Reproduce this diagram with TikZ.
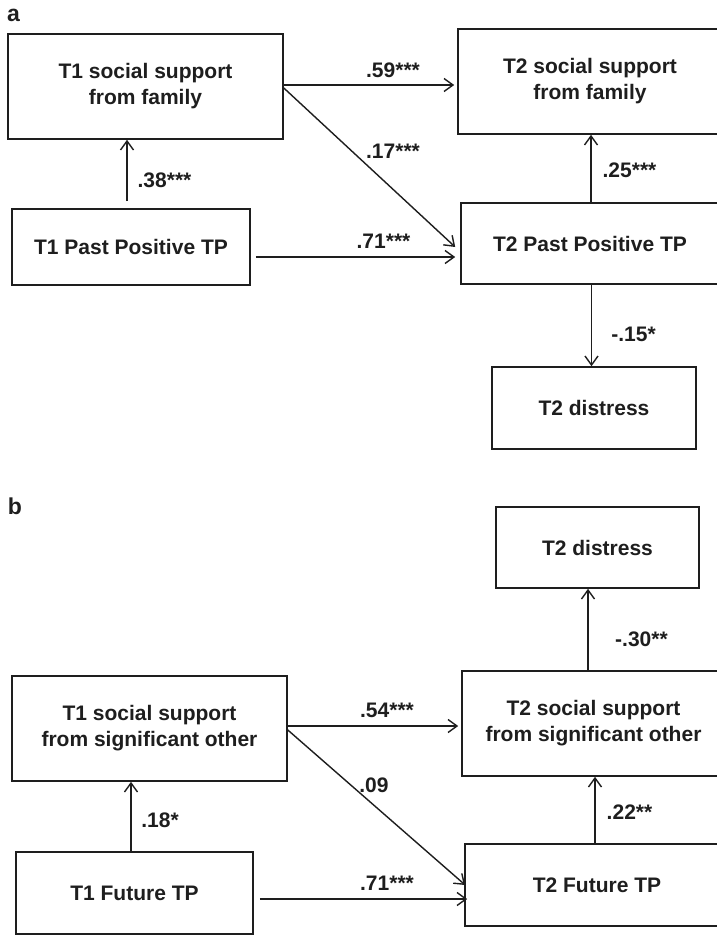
\documentclass[tikz,border=0pt]{standalone}
\usepackage{fontspec}
\setmainfont{Liberation Sans}
\usetikzlibrary{arrows.meta}
\definecolor{ink}{HTML}{1E1E1E}
\begin{document}
\begin{tikzpicture}[x=1pt,y=-1pt,
  box/.style={draw=ink, line width=1.6pt, align=center, text=ink,
    font=\fontsize{21}{26}\selectfont\bfseries, inner sep=0pt},
  coef/.style={font=\fontsize{21}{26}\selectfont\bfseries, inner sep=0pt, text=ink},
  panel/.style={font=\fontsize{23}{26}\selectfont\bfseries, inner sep=0pt, text=ink},
  link/.style={draw=ink, line width=1.4pt,
    -{Straight Barb[length=9pt,width=13pt,line width=1.4pt]}}]
\clip (0,0) rectangle (717,935);
\fill[white] (0,0) rectangle (717,935);

% ---------- panel a ----------
\node[panel] (pa) at (13.5,15.5) {a};
\node[box, minimum width=275pt, minimum height=105pt] (A1) at (145.5,86.5)
  {T1 social support\\from family};
\node[box, minimum width=238pt, minimum height=76pt] (A2) at (131,247)
  {T1 Past Positive TP};
\node[box, minimum width=264pt, minimum height=105pt] (A3) at (590,81.5)
  {T2 social support\\from family};
\node[box, minimum width=258pt, minimum height=81pt] (A4) at (590,243.5)
  {T2 Past Positive TP};
\node[box, minimum width=204pt, minimum height=82pt] (A5) at (594,408)
  {T2 distress};

\coordinate (a38s) at ([shift={(-4pt,7pt)}]A2.north);
\draw[link] (a38s) -- (a38s |- A1.south);
\coordinate (a59s) at ([yshift=1.5pt]A1.east);
\draw[link] (a59s) -- ([xshift=-3pt]a59s -| A3.west);
\coordinate (a17s) at ([yshift=-1.5pt]A1.east);
\draw[link] (a17s) -- ([shift={(-5pt,-3.5pt)}]A4.west);
\coordinate (a71s) at ([shift={(5pt,-10pt)}]A2.east);
\draw[link] (a71s) -- ([xshift=-5pt]a71s -| A4.west);
\draw[link] ([xshift=1pt]A4.north) -- ([xshift=1pt]A4.north |- A3.south);
\draw[link] ([xshift=1.5pt]A4.south) -- ([xshift=1.5pt]A4.south |- A5.north);

\node[coef] (l38) at (164.5,180) {.38***};
\node[coef] (l59) at (393,70) {.59***};
\node[coef] (l17) at (393,151.5) {.17***};
\node[coef] (l71a) at (383.5,241) {.71***};
\node[coef] (l25) at (629.5,170.5) {.25***};
\node[coef] (l15) at (633.5,334.5) {-.15*};

% ---------- panel b ----------
\node[panel] (pb) at (15,506.5) {b};
\node[box, minimum width=275pt, minimum height=105pt] (B1) at (149.5,728.5)
  {T1 social support\\from significant other};
\node[box, minimum width=237pt, minimum height=82pt] (B2) at (134.5,893)
  {T1 Future TP};
\node[box, minimum width=203pt, minimum height=81pt] (B3) at (597.5,547.5)
  {T2 distress};
\node[box, minimum width=263pt, minimum height=105pt] (B4) at (593.5,723.5)
  {T2 social support\\from significant other};
\node[box, minimum width=264pt, minimum height=82pt] (B5) at (597,885)
  {T2 Future TP};

\coordinate (b18s) at ([xshift=-3.5pt]B2.north);
\draw[link] (b18s) -- (b18s |- B1.south);
\coordinate (b54s) at ([yshift=2.5pt]B1.east);
\draw[link] (b54s) -- ([xshift=-3pt]b54s -| B4.west);
\coordinate (b09s) at ([yshift=-1.5pt]B1.east);
\draw[link] (b09s) -- ([xshift=1pt]B5.west);
\coordinate (b71s) at ([shift={(6pt,-6pt)}]B2.east);
\draw[link] (b71s) -- ([xshift=3pt]b71s -| B5.west);
\draw[link] ([xshift=-2pt]B5.north) -- ([xshift=-2pt]B5.north |- B4.south);
\draw[link] ([xshift=-5.5pt]B4.north) -- ([xshift=-5.5pt]B4.north |- B3.south);

\node[coef] (l18) at (160,820.5) {.18*};
\node[coef] (l54) at (387,710.5) {.54***};
\node[coef] (l09) at (374,785.5) {.09};
\node[coef] (l71b) at (387,883.5) {.71***};
\node[coef] (l22) at (629.5,812) {.22**};
\node[coef] (l30) at (641.5,639) {-.30**};
\end{tikzpicture}
\end{document}
